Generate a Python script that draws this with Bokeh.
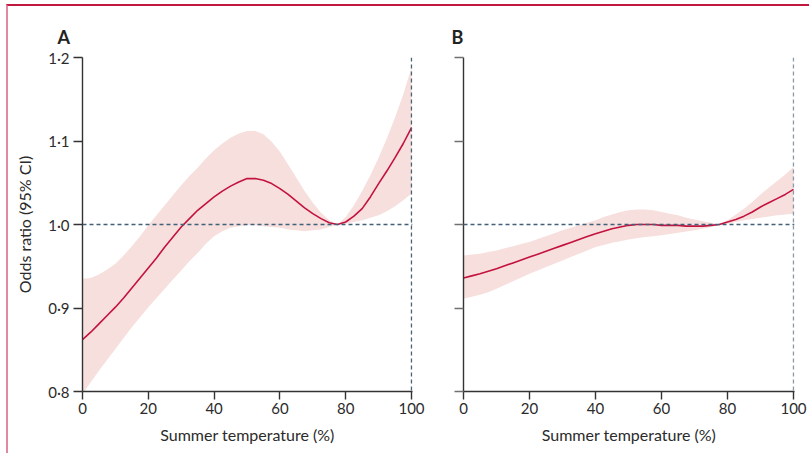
from bokeh.plotting import figure
from bokeh.models import Range1d, FixedTicker, Span
from bokeh.layouts import row
from bokeh.embed import file_html
from bokeh.resources import INLINE

# ---- data ----
temp = [0, 2.5, 5, 7.5, 10, 12.5, 15, 17.5, 20, 22.5, 25, 27.5, 30, 32.5, 35, 37.5,
        40, 42.5, 45, 47.5, 50, 52.5, 55, 57.5, 60, 62.5, 65, 67.5, 70, 72.5, 75, 77.5,
        80, 82.5, 85, 87.5, 90, 92.5, 95, 97.5, 100]

a_or = [0.862, 0.871, 0.881, 0.891, 0.901, 0.912, 0.924, 0.936, 0.948, 0.960, 0.973,
        0.985, 0.997, 1.007, 1.017, 1.025, 1.033, 1.040, 1.046, 1.051, 1.055, 1.055,
        1.053, 1.049, 1.043, 1.036, 1.028, 1.020, 1.013, 1.007, 1.002, 1.000, 1.003,
        1.010, 1.019, 1.033, 1.049, 1.064, 1.080, 1.097, 1.116]
a_hi = [0.935, 0.936, 0.940, 0.946, 0.953, 0.963, 0.974, 0.986, 0.999, 1.011, 1.023,
        1.035, 1.047, 1.058, 1.068, 1.079, 1.089, 1.097, 1.104, 1.109, 1.112, 1.112,
        1.108, 1.099, 1.087, 1.072, 1.056, 1.040, 1.026, 1.014, 1.005, 1.000, 1.009,
        1.023, 1.040, 1.059, 1.080, 1.103, 1.128, 1.156, 1.188]
a_lo = [0.797, 0.811, 0.825, 0.838, 0.851, 0.864, 0.877, 0.889, 0.901, 0.912, 0.923,
        0.934, 0.945, 0.956, 0.966, 0.977, 0.986, 0.992, 0.996, 0.998, 0.999, 0.999,
        0.998, 0.997, 0.996, 0.994, 0.993, 0.992, 0.993, 0.994, 0.997, 1.000, 1.001,
        1.003, 1.005, 1.008, 1.011, 1.016, 1.022, 1.029, 1.037]

b_or = [0.936, 0.9385, 0.941, 0.944, 0.947, 0.9505, 0.954, 0.9575, 0.961, 0.9645, 0.968,
        0.9715, 0.975, 0.9785, 0.982, 0.9855, 0.989, 0.992, 0.995, 0.997, 0.999, 1.000,
        1.000, 1.000, 0.999, 0.999, 0.999, 0.998, 0.998, 0.998, 0.999, 1.000, 1.003,
        1.006, 1.010, 1.015, 1.021, 1.026, 1.031, 1.036, 1.042]
b_hi = [0.963, 0.964, 0.965, 0.967, 0.969, 0.9715, 0.974, 0.9765, 0.979, 0.9825, 0.986,
        0.9895, 0.993, 0.996, 0.999, 1.002, 1.005, 1.009, 1.012, 1.015, 1.017, 1.018,
        1.018, 1.017, 1.015, 1.013, 1.011, 1.008, 1.006, 1.004, 1.002, 1.000, 1.005,
        1.012, 1.019, 1.027, 1.036, 1.044, 1.052, 1.060, 1.069]
b_lo = [0.911, 0.9135, 0.916, 0.919, 0.923, 0.9275, 0.932, 0.9365, 0.941, 0.945, 0.949,
        0.953, 0.957, 0.961, 0.965, 0.969, 0.973, 0.9755, 0.978, 0.980, 0.982, 0.9835,
        0.985, 0.986, 0.987, 0.9885, 0.990, 0.9915, 0.993, 0.995, 0.997, 1.000, 1.001,
        1.003, 1.005, 1.0065, 1.008, 1.0095, 1.011, 1.012, 1.013]

x_ticks = [0, 20, 40, 60, 80, 100]
y_ticks = [0.8, 0.9, 1.0, 1.1, 1.2]
y_tick_labels = ["0·8", "0·9", "1·0", "1·1", "1·2"]
panel_labels = ["A", "B"]
x_title = "Summer temperature (%)"
y_title = "Odds ratio (95% CI)"
ref_value = 1.0
ref_temp = 100

FONT = "Lato"
LINE = "#c4123f"
BAND = "#f6dfdd"
DASH = "#42607a"
AXIS = "#333333"


def panel(label, x, mid, lo, hi, width, left, right, show_y_labels, vcolor):
    p = figure(width=width, height=447, x_range=Range1d(0, 100.3), y_range=Range1d(0.8, 1.2),
               output_backend="svg", toolbar_location=None,
               min_border_left=left, min_border_right=right,
               min_border_top=51, min_border_bottom=62)
    p.grid.visible = False
    p.outline_line_color = None
    p.background_fill_color = "white"
    p.border_fill_color = "white"

    p.varea(x=x, y1=lo, y2=hi, fill_color=BAND)
    p.add_layout(Span(location=ref_value, dimension="width", line_color=DASH,
                      line_dash="4 3", line_width=1.3))
    p.add_layout(Span(location=ref_temp, dimension="height", line_color=vcolor,
                      line_dash="4 3", line_width=1.4))
    p.line(x=x, y=mid, line_color=LINE, line_width=1.6)

    for ax in (p.xaxis[0], p.yaxis[0]):
        ax.axis_line_color = AXIS
        ax.axis_line_width = 1.4
        ax.major_tick_line_color = AXIS
        ax.major_tick_line_width = 1.4
        ax.major_tick_in = 0
        ax.minor_tick_line_color = None
        ax.major_label_text_font = FONT
        ax.major_label_text_font_size = "15px"
        ax.major_label_text_color = "#2b2b2b"
        ax.axis_label_text_font = FONT
        ax.axis_label_text_font_size = "16px"
        ax.axis_label_text_font_style = "normal"
        ax.axis_label_text_color = "#2b2b2b"

    p.xaxis.ticker = FixedTicker(ticks=x_ticks)
    p.xaxis.major_tick_out = 8
    p.xaxis.major_label_standoff = 3
    p.xaxis.axis_label = x_title
    p.xaxis.axis_label_standoff = 8

    p.yaxis.ticker = FixedTicker(ticks=y_ticks)
    p.yaxis.major_tick_out = 9
    if show_y_labels:
        p.yaxis.major_label_overrides = {t: s for t, s in zip(y_ticks, y_tick_labels)}
        p.yaxis.axis_label = y_title
        p.yaxis.major_label_standoff = 4
        p.yaxis.axis_label_standoff = 11
    else:
        p.yaxis.major_label_overrides = {t: "" for t in y_ticks}
        p.yaxis.major_tick_line_color = "#707070"

    p.title.text = label
    p.title.align = "left"
    p.title.offset = -25 if show_y_labels else -12
    p.title.text_font = FONT
    p.title.text_font_size = "18px"
    p.title.text_font_style = "bold"
    p.title.text_color = "#222222"
    p.title.standoff = 19
    return p


pa = panel(panel_labels[0], temp, a_or, a_lo, a_hi, 423, 74, 19, True, "#4a6272")
pb = panel(panel_labels[1], temp, b_or, b_lo, b_hi, 378, 32, 15, False, "#8a9aa6")

layout = row(pa, pb, styles={"margin": "4px 0 0 6px",
                             "border-top": "2px solid #c0163f",
                             "border-left": "2px solid #e08aa2"})

open("out.html", "w").write(file_html(layout, INLINE))
